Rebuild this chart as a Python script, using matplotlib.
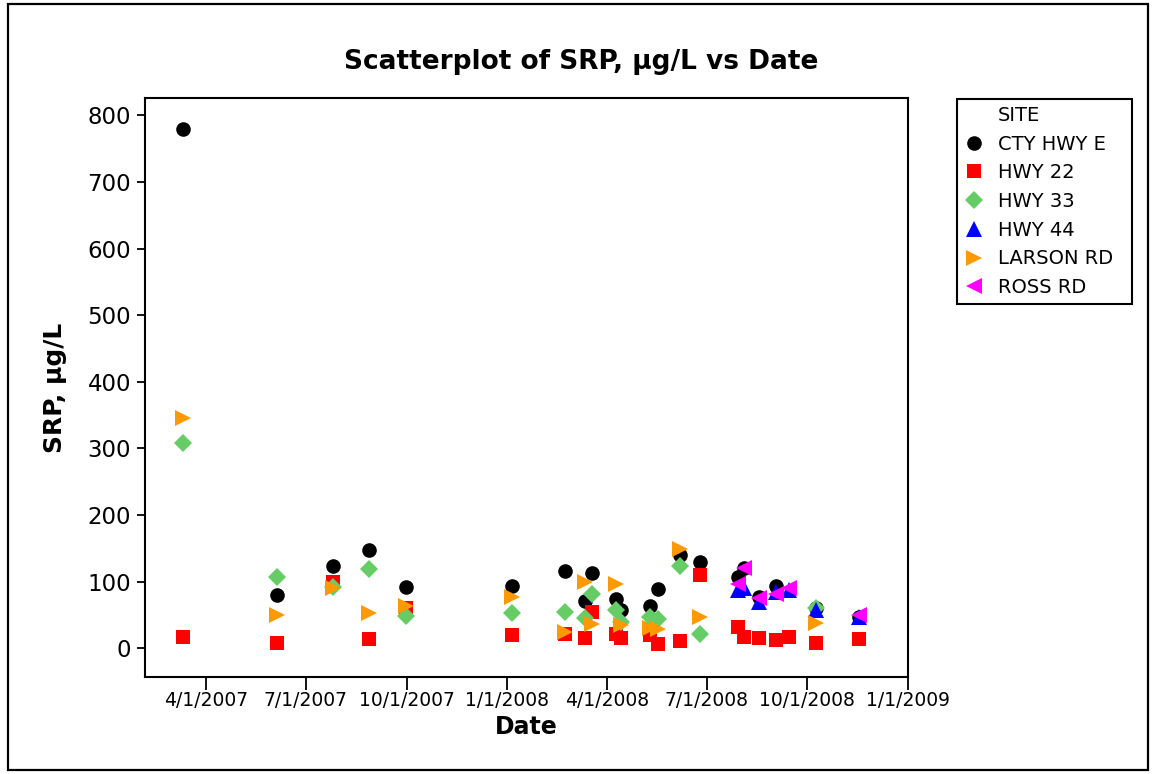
import matplotlib
matplotlib.use("Agg")
import matplotlib.pyplot as plt
import pandas as pd
from matplotlib.lines import Line2D
from matplotlib.patches import Rectangle

plt.rcParams["font.family"] = ["DejaVu Sans"]

# ---- data -------------------------------------------------------------
sites = ["CTY HWY E", "HWY 22", "HWY 33", "HWY 44", "LARSON RD", "ROSS RD"]

cty_dates = ["2007-03-11", "2007-06-05", "2007-07-26", "2007-08-28", "2007-09-30",
             "2008-01-05", "2008-02-23", "2008-03-12", "2008-03-18", "2008-04-09",
             "2008-04-14", "2008-05-10", "2008-05-18", "2008-06-07", "2008-06-25",
             "2008-07-30", "2008-08-04", "2008-08-18", "2008-09-02", "2008-10-09",
             "2008-11-17"]
cty_srp = [780, 80, 123, 147, 92, 93, 116, 71, 113, 74, 57, 64, 89, 140, 130,
           107, 120, 77, 93, 60, 47]

hwy22_dates = ["2007-03-11", "2007-06-05", "2007-07-26", "2007-08-28", "2007-09-30",
               "2008-01-05", "2008-02-23", "2008-03-12", "2008-03-18", "2008-04-09",
               "2008-04-14", "2008-05-10", "2008-05-18", "2008-06-07", "2008-06-25",
               "2008-07-30", "2008-08-04", "2008-08-18", "2008-09-02", "2008-09-14",
               "2008-10-09", "2008-11-17"]
hwy22_srp = [17, 8, 99, 14, 61, 20, 21, 15, 54, 21, 15, 20, 7, 11, 110,
             32, 17, 15, 12, 17, 8, 14]

hwy33_dates = ["2007-03-11", "2007-06-05", "2007-07-26", "2007-08-28", "2007-09-30",
               "2008-01-05", "2008-02-23", "2008-03-12", "2008-03-18", "2008-04-09",
               "2008-04-14", "2008-05-10", "2008-05-18", "2008-06-07", "2008-06-25",
               "2008-10-09"]
hwy33_srp = [308, 107, 92, 119, 48, 53, 54, 45, 82, 57, 40, 47, 44, 124, 22, 60]

hwy44_dates = ["2008-07-30", "2008-08-04", "2008-08-18", "2008-09-02", "2008-09-14",
               "2008-10-09", "2008-11-17"]
hwy44_srp = [87, 90, 69, 85, 87, 58, 47]

larson_dates = ["2007-03-11", "2007-06-05", "2007-07-26", "2007-08-28", "2007-09-30",
                "2008-01-05", "2008-02-23", "2008-03-12", "2008-03-18", "2008-04-09",
                "2008-04-14", "2008-05-10", "2008-05-18", "2008-06-07", "2008-06-25",
                "2008-10-09"]
larson_srp = [345, 50, 90, 53, 63, 77, 24, 100, 37, 96, 35, 31, 29, 149, 47, 38]

ross_dates = ["2008-07-30", "2008-08-04", "2008-08-18", "2008-09-02", "2008-09-14",
              "2008-11-17"]
ross_srp = [97, 120, 75, 81, 90, 50]

x_tick_labels = ["4/1/2007", "7/1/2007", "10/1/2007", "1/1/2008",
                 "4/1/2008", "7/1/2008", "10/1/2008", "1/1/2009"]
y_ticks = [0, 100, 200, 300, 400, 500, 600, 700, 800]

# ---- styling per site --------------------------------------------------
series = [
    (cty_dates, cty_srp, "o", "#000000", 10.5),
    (hwy22_dates, hwy22_srp, "s", "#FF0000", 10.0),
    (hwy33_dates, hwy33_srp, "D", "#66CC66", 9.0),
    (hwy44_dates, hwy44_srp, "^", "#0000FF", 11.5),
    (larson_dates, larson_srp, ">", "#FF9900", 11.5),
    (ross_dates, ross_srp, "<", "#FF00FF", 11.5),
]

W, H = 1156, 774
fig = plt.figure(figsize=(W / 100, H / 100), dpi=100)
fig.patch.set_facecolor("white")

# outer frame around the whole graph
fig.add_artist(Rectangle((8 / W, 4 / H), 1140 / W, 766 / H, transform=fig.transFigure,
                         fill=False, edgecolor="black", linewidth=1.6))

ax_l, ax_r, ax_t, ax_b = 145, 908, 98, 677
ax = fig.add_axes([ax_l / W, 1 - ax_b / H, (ax_r - ax_l) / W, (ax_b - ax_t) / H])

handles = [Line2D([], [], linestyle="none", marker="none")]
labels = ["SITE"]
for (d, v, m, c, ms), name in zip(series, sites):
    ax.plot(pd.to_datetime(d), v, linestyle="none", marker=m, color=c,
            markersize=ms, markeredgewidth=0)
    handles.append(Line2D([], [], linestyle="none", marker=m, color=c,
                          markersize=ms, markeredgewidth=0))
    labels.append(name)

ax.set_xlim(pd.Timestamp("2007-02-04"), pd.Timestamp("2009-01-01"))
ax.set_ylim(-43, 826)
ax.set_xticks(pd.to_datetime(x_tick_labels, format="%m/%d/%Y"))
ax.set_xticklabels(x_tick_labels, fontsize=13.5)
ax.set_yticks(y_ticks)
ax.set_yticklabels([str(v) for v in y_ticks], fontsize=16.5)

for s in ax.spines.values():
    s.set_linewidth(1.5)
ax.tick_params(axis="x", length=9, width=1.3, pad=1)
ax.tick_params(axis="y", length=6, width=1.3, pad=4)

ax.set_xlabel("Date", fontsize=17, fontweight="bold")
ax.xaxis.set_label_coords(0.5, (ax_b - 727) / (ax_b - ax_t))
ax.xaxis.label.set_va("center")
ax.set_ylabel("SRP, µg/L", fontsize=18, fontweight="bold")
ax.yaxis.set_label_coords((55 - ax_l) / (ax_r - ax_l), 0.5)
ax.yaxis.label.set_va("center")

fig.text(581 / W, 1 - 62 / H, "Scatterplot of SRP, µg/L vs Date",
         ha="center", va="center", fontsize=19, fontweight="bold")

leg = fig.legend(handles, labels, loc="upper left",
                 bbox_to_anchor=(957 / W, 1 - 302 / H, (1132 - 957) / W, (302 - 99) / H),
                 mode="expand", fontsize=14, frameon=True, fancybox=False,
                 framealpha=1, edgecolor="black", borderpad=0.35, labelspacing=0.5,
                 handlelength=1.0, handletextpad=0.75, borderaxespad=0)
leg.get_frame().set_linewidth(1.5)

fig.savefig("out.png", dpi=100)
